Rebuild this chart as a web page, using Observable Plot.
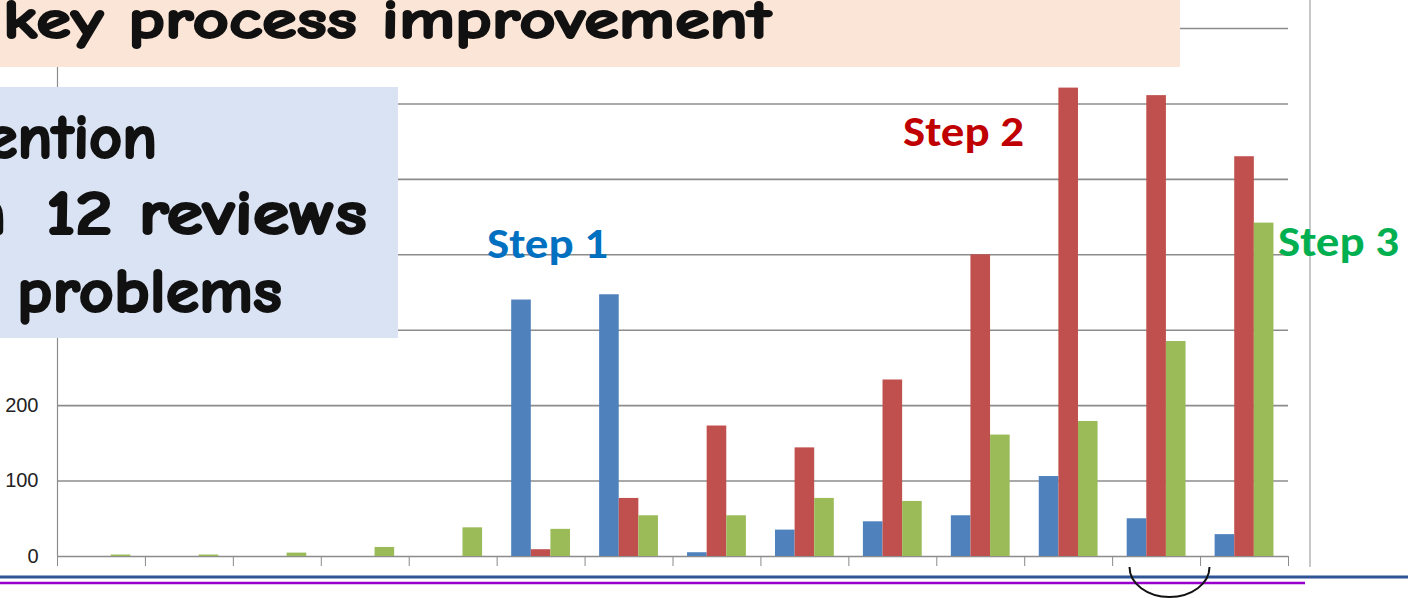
<!DOCTYPE html>
<html>
<head>
<meta charset="utf-8">
<script src="https://cdn.jsdelivr.net/npm/d3@7"></script>
<script src="https://cdn.jsdelivr.net/npm/@observablehq/plot@0.6"></script>
<style>
  html, body { margin: 0; padding: 0; background: #fff; overflow: hidden; }
  #wrap { position: relative; width: 1408px; height: 598px; }
  #wrap > svg { position: absolute; left: 0; top: 0; }
  #overlay { pointer-events: none; }
</style>
</head>
<body>
<div id="wrap"></div>
<script>
// ---- data ----
const reviews = [1, 2, 3, 4, 5, 6, 7, 8, 9, 10, 11, 12, 13, 14];
const seriesBlue  = [0, 0, 0, 0, 0, 340, 347, 5, 35, 46, 54, 106, 50, 29];
const seriesRed   = [0, 0, 0, 0, 0, 9, 77, 173, 144, 234, 400, 621, 611, 530];
const seriesGreen = [2, 2, 4.5, 12, 38, 36, 54, 54, 77, 73, 161, 179, 285, 442];
const yTicks = [0, 100, 200, 300, 400, 500, 600, 700];
const yTickLabels = [0, 100, 200]; // the others sit under the slide's boxes
const titleText = "key process improvement";
const boxLines = ["ention", "n", "12 reviews", "problems"];
const stepLabels = ["Step 1", "Step 2", "Step 3"];

const rows = reviews.map((r, i) => ({
  review: r, i, blue: seriesBlue[i], red: seriesRed[i], green: seriesGreen[i]
}));

const W = 1408, H = 598;
const mL = 57, mR = 120, mT = 28, mB = 42;
const step = (W - mL - mR) / reviews.length;
const barW = step * 0.223;
const pad = (step - 3 * barW) / 2;
const inset = k => ({ insetLeft: pad + k * barW, insetRight: step - pad - (k + 1) * barW });

const chart = Plot.plot({
  width: W, height: H,
  marginLeft: mL, marginRight: mR, marginTop: mT, marginBottom: mB,
  style: { color: "#8a8a8a", background: "transparent", fontFamily: "Liberation Sans" },
  x: { domain: [0, reviews.length], ticks: reviews.length, tickSize: 10, tickFormat: () => "", label: null },
  y: { domain: [0, 700], axis: null },
  marks: [
    Plot.ruleY(yTicks, { stroke: "#8c8c8c", strokeWidth: 1.6 }),
    Plot.ruleX([0], { stroke: "#8c8c8c", strokeWidth: 1.2 }),
    Plot.text(yTickLabels, { y: d => d, text: d => String(d), frameAnchor: "left", textAnchor: "end", dx: -19,
      fill: "#222", fontSize: 20, fontFamily: "Liberation Sans Narrow, Liberation Sans" }),
    Plot.rectY(rows, { x1: "i", x2: d => d.i + 1, y: "blue", fill: "#4F81BD", ...inset(0) }),
    Plot.rectY(rows, { x1: "i", x2: d => d.i + 1, y: "red", fill: "#C0504D", ...inset(1) }),
    Plot.rectY(rows, { x1: "i", x2: d => d.i + 1, y: "green", fill: "#9BBB59", ...inset(2) })
  ]
});
document.getElementById("wrap").appendChild(chart);

// ---- slide overlays ----
const NS = "http://www.w3.org/2000/svg";
const ov = d3.select("#wrap").append("svg").attr("id", "overlay")
  .attr("width", W).attr("height", H).attr("xmlns", NS);

// chart frame right edge
ov.append("line").attr("x1", 1310).attr("x2", 1310).attr("y1", 0).attr("y2", 567)
  .attr("stroke", "#b4b4b4").attr("stroke-width", 1.5);

const comic = "'Comic Sans MS', 'Comic Neue', 'Noto Sans', sans-serif";
// title band
ov.append("rect").attr("x", 0).attr("y", 0).attr("width", 1180).attr("height", 67).attr("fill", "#FBE5D6");
ov.append("text").attr("x", 3).attr("y", 38).attr("font-family", comic).attr("font-weight", "bold")
  .attr("font-size", 55).attr("fill", "#111").attr("stroke", "#111").attr("stroke-width", 2)
  .attr("stroke-linejoin", "round")
  .attr("textLength", 768).attr("lengthAdjust", "spacingAndGlyphs")
  .text(titleText);

// blue note box
ov.append("rect").attr("x", 0).attr("y", 87).attr("width", 398).attr("height", 251).attr("fill", "#DAE3F3");
const boxText = (t, x, y, len, anchor) => {
  const s = ov.append("text").attr("x", x).attr("y", y).attr("font-family", comic).attr("font-weight", "bold")
    .attr("font-size", 63).attr("fill", "#111").attr("stroke", "#111").attr("stroke-width", 2.2)
    .attr("stroke-linejoin", "round").attr("text-anchor", anchor || "start").text(t);
  if (len) s.attr("textLength", len).attr("lengthAdjust", "spacingAndGlyphs");
};
boxText(boxLines[0], -14, 158, 171);
boxText(boxLines[1], 6, 234, null, "end");
boxText(boxLines[2], 46, 234, 321);
boxText(boxLines[3], 17, 312, 265);

// step labels
const stepFont = "Calibri, Carlito, 'Noto Sans', sans-serif";
const stepText = (t, x, y, color) => ov.append("text").attr("x", x).attr("y", y)
  .attr("font-family", stepFont).attr("font-weight", "bold").attr("font-size", 42).attr("fill", color)
  .attr("textLength", 121).attr("lengthAdjust", "spacingAndGlyphs").text(t);
stepText(stepLabels[0], 487, 258, "#0070C0");
stepText(stepLabels[1], 903, 146, "#C00000");
stepText(stepLabels[2], 1278, 256, "#00B050");

// bottom slide lines and arc
ov.append("line").attr("x1", 0).attr("x2", W).attr("y1", 577).attr("y2", 577)
  .attr("stroke", "#2F5597").attr("stroke-width", 3);
ov.append("line").attr("x1", 0).attr("x2", 1305).attr("y1", 583).attr("y2", 583)
  .attr("stroke", "#9900CC").attr("stroke-width", 2.5);
ov.append("path").attr("d", "M1129.5,567 A40,30 0 0 0 1209.5,567")
  .attr("fill", "none").attr("stroke", "#111").attr("stroke-width", 2);
</script>
</body>
</html>
